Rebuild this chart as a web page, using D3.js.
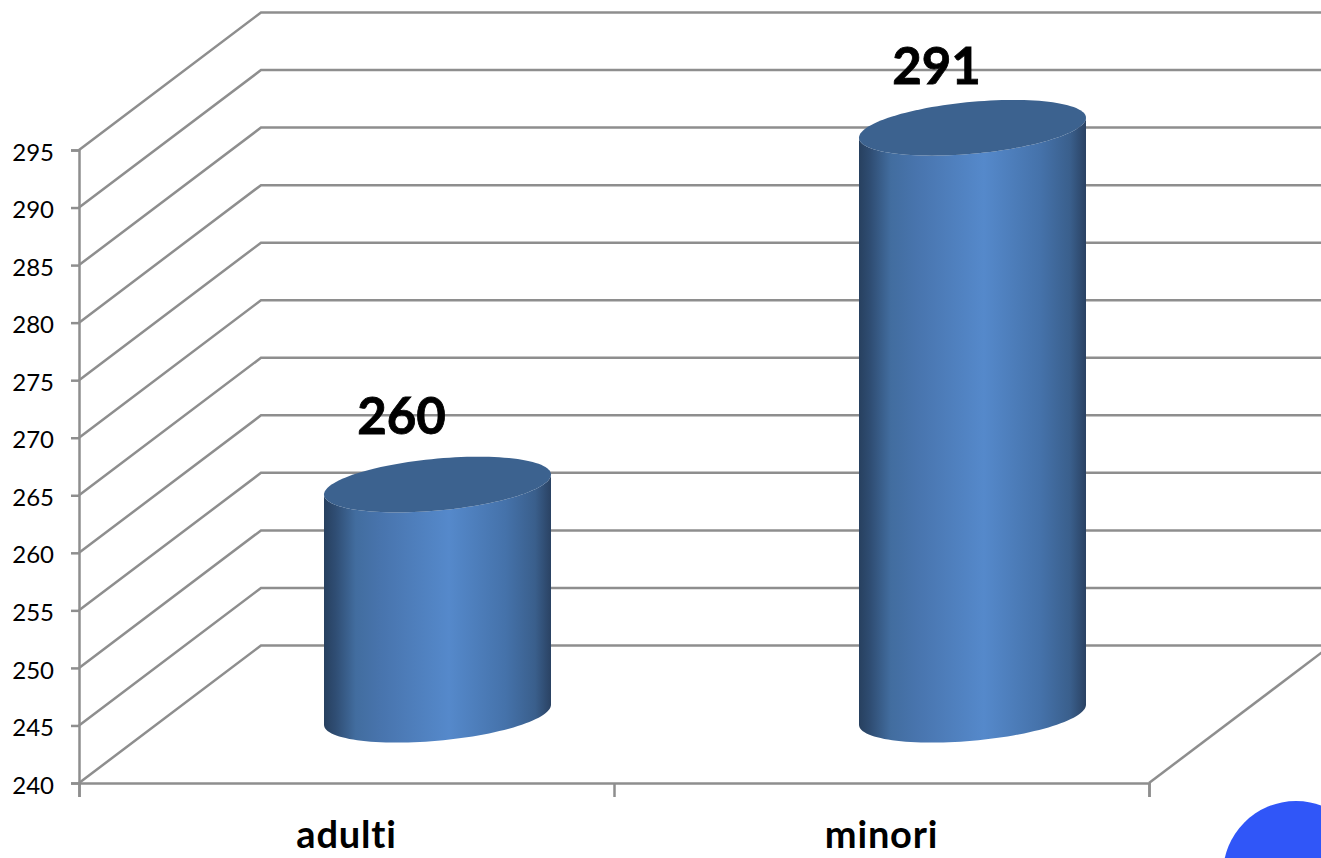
<!DOCTYPE html>
<html>
<head>
<meta charset="utf-8">
<script src="https://cdn.jsdelivr.net/npm/d3@7"></script>
<style>
  body { margin: 0; background: #fff; }
  svg { display: block; }
  text { font-family: Lato, "Open Sans", sans-serif; fill: #000; }
</style>
</head>
<body>
<svg id="chart" width="1321" height="858"></svg>
<script>
var categories = ["adulti", "minori"];
var values = [260, 291];
var yTicks = [240, 245, 250, 255, 260, 265, 270, 275, 280, 285, 290, 295];

var svg = d3.select("#chart");
var grey = "#8e8e8e";

// depth of the fake 3d floor
var depthX = 182, depthY = -137.5;

var y = d3.scaleLinear().domain([240, 295]).range([783, 150]);
var x = d3.scaleBand().domain(categories).range([79, 1149]);
var xEdges = d3.scaleLinear().domain([0, categories.length]).range([79, 1149]);

// gradient across the cylinder body
var grad = svg.append("defs").append("linearGradient").attr("id", "body");
[[0, "#27405f"], [0.05, "#2f4d73"], [0.14, "#426d9f"], [0.25, "#4874ad"], [0.55, "#5589cb"], [0.8, "#4572aa"], [0.93, "#3a5f8c"], [1, "#2a4263"]]
	.forEach(function (s) {
		grad.append("stop").attr("offset", s[0]).attr("stop-color", s[1]);
	});

// walls
var wall = svg.append("g")
	.attr("fill", "none")
	.attr("stroke", grey)
	.attr("stroke-width", 2.5);

wall.selectAll("path.grid")
	.data(yTicks)
	.join("path")
	.attr("class", "grid")
	.attr("d", function (d) {
		return "M" + x.range()[0] + "," + y(d) +
			"L" + (x.range()[0] + depthX) + "," + (y(d) + depthY) +
			"H" + (x.range()[1] + depthX);
	});

wall.append("path")
	.attr("d", "M" + x.range()[1] + "," + y(240) + "l" + depthX + "," + depthY);

// axes
var yAxis = svg.append("g")
	.attr("transform", "translate(79,0)")
	.call(d3.axisLeft(y).tickValues(yTicks).tickSize(8).tickPadding(17));
var xAxis = svg.append("g")
	.attr("transform", "translate(0," + y(240) + ")")
	.call(d3.axisBottom(xEdges).ticks(categories.length).tickSize(14).tickFormat(""));
svg.append("g")
	.attr("transform", "translate(0," + y(240) + ")")
	.call(d3.axisBottom(x).tickSize(0).tickPadding(38))
	.call(function (g) { g.select(".domain").remove(); })
	.selectAll("text")
	.style("font-size", "38px")
	.style("font-weight", 700)
	.style("letter-spacing", "0.8px")
	.style("font-family", "Lato");

yAxis.selectAll("text").attr("dy", "0.42em").style("font-size", "24px").style("font-family", "Lato");
yAxis.selectAll("path,line").attr("stroke", grey).attr("stroke-width", 2.5);
xAxis.selectAll("path,line").attr("stroke", grey).attr("stroke-width", 2.5);

// cylinders: a slanted ellipse, half axes rx and ry, tilt going up to the right
var rx = 113.5, ry = 26, tilt = -10;
function rim(t) {
	return [rx * Math.cos(t), tilt * Math.cos(t) + ry * Math.sin(t)];
}
var ring = d3.range(0, 2 * Math.PI, Math.PI / 60);
var lowerHalf = ring.filter(function (t) { return t <= Math.PI; });
var line = d3.line();

var bars = svg.append("g").selectAll("g")
	.data(categories)
	.join("g")
	.attr("transform", function (d) {
		return "translate(" + (x(d) + x.bandwidth() / 2 + depthX / 2) + ",0.5)";
	});

bars.append("path")
	.attr("fill", "url(#body)")
	.attr("d", function (d, i) {
		var top = y(values[i]) + depthY / 2, base = y(240) + depthY / 2;
		var bottomEdge = lowerHalf.map(function (t) {
			var p = rim(t);
			return [p[0], p[1] + base];
		});
		var topEdge = lowerHalf.slice().reverse().map(function (t) {
			var p = rim(t);
			return [p[0], p[1] + top];
		});
		return line(bottomEdge.concat(topEdge)) + "Z";
	});

bars.append("path")
	.attr("fill", "#3c628f")
	.attr("d", function (d, i) {
		var top = y(values[i]) + depthY / 2;
		return line(ring.map(function (t) {
			var p = rim(t);
			return [p[0], p[1] + top];
		})) + "Z";
	});

// value labels sit a bit left of the cylinder
var labelLift = [51, 44];
bars.append("text")
	.attr("x", -36)
	.attr("y", function (d, i) { return y(values[i]) + depthY / 2 - labelLift[i]; })
	.attr("text-anchor", "middle")
	.style("font-size", "51px")
	.style("font-weight", 700)
	.style("stroke", "#000")
	.style("stroke-width", 0.8)
	.text(function (d, i) { return values[i]; });

// stray blue disc from the slide
svg.append("circle")
	.attr("cx", 1296)
	.attr("cy", 874)
	.attr("r", 73)
	.attr("fill", "#3056f8");
</script>
</body>
</html>
